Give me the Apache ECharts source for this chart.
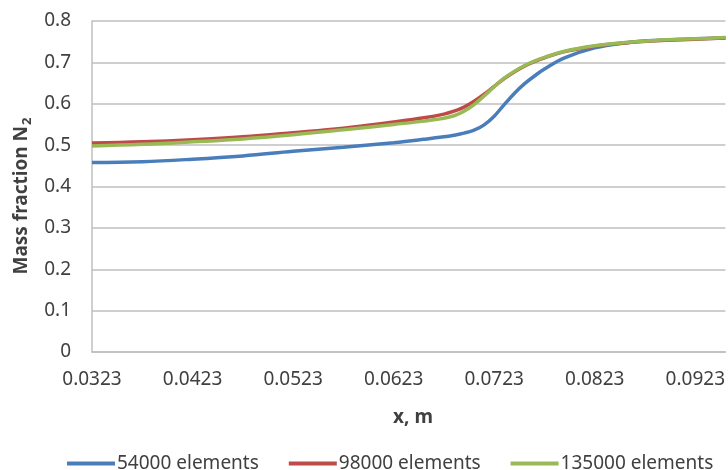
<!DOCTYPE html>
<html>
<head>
<meta charset="utf-8">
<script src="https://cdn.jsdelivr.net/npm/echarts@6/dist/echarts.min.js"></script>
<style>
  html, body { margin: 0; padding: 0; background: #ffffff; }
  #chart { width: 728px; height: 470px; }
</style>
</head>
<body>
<div id="chart"></div>
<script>
// Axial position, m
const xValues = [0.0323, 0.0373, 0.0423, 0.0473, 0.0523, 0.0573, 0.0623, 0.0653, 0.0673, 0.0683,
  0.0693, 0.0703, 0.0713, 0.0723, 0.0733, 0.0743, 0.0753, 0.0763, 0.0773, 0.0793,
  0.0823, 0.0853, 0.0883, 0.0923, 0.0953];

// N2 mass fraction for each mesh
const mesh54000 = [0.458, 0.460, 0.466, 0.474, 0.485, 0.495, 0.506, 0.514, 0.520, 0.524,
  0.529, 0.536, 0.549, 0.570, 0.598, 0.625, 0.648, 0.667, 0.684, 0.711,
  0.735, 0.747, 0.753, 0.757, 0.759];
const mesh98000 = [0.505, 0.508, 0.513, 0.520, 0.530, 0.541, 0.556, 0.566, 0.575, 0.582,
  0.592, 0.606, 0.623, 0.642, 0.661, 0.677, 0.691, 0.702, 0.711, 0.726,
  0.739, 0.747, 0.752, 0.756, 0.759];
const mesh135000 = [0.498, 0.502, 0.508, 0.515, 0.525, 0.537, 0.550, 0.558, 0.565, 0.571,
  0.582, 0.598, 0.619, 0.641, 0.662, 0.678, 0.692, 0.703, 0.712, 0.727,
  0.740, 0.748, 0.753, 0.757, 0.760];

const seriesNames = ['54000 elements', '98000 elements', '135000 elements'];
const xTickLabels = [0.0323, 0.0423, 0.0523, 0.0623, 0.0723, 0.0823, 0.0923];

const colors = ['#4a7ebb', '#be4b48', '#98b954'];
const font = 'Noto Sans, Open Sans, sans-serif';
const textColor = '#404040';
const gridColor = '#bfbfbf';

function pairs(ys) {
  return xValues.map((x, i) => [x, ys[i]]);
}

const chart = echarts.init(document.getElementById('chart'), null, { renderer: 'canvas' });

const lineSeries = seriesNames.map((name, i) => ({
  name,
  type: 'line',
  data: pairs([mesh54000, mesh98000, mesh135000][i]),
  smooth: 0.4,
  showSymbol: false,
  lineStyle: { width: 3.5 }
}));

chart.setOption({
  animation: false,
  color: colors,
  grid: { left: 92, right: 0, top: 21, bottom: 118 },
  xAxis: {
    type: 'value',
    min: 0.0323,
    max: 0.0953,
    axisLine: { show: true, lineStyle: { color: gridColor, width: 1.5 } },
    axisTick: { show: false, customValues: xTickLabels },
    splitLine: { show: false },
    axisLabel: {
      customValues: xTickLabels,
      formatter: v => v.toFixed(4),
      color: textColor,
      fontFamily: font,
      fontSize: 19,
      margin: 18,
      showMinLabel: true,
      showMaxLabel: true
    }
  },
  yAxis: {
    type: 'value',
    min: 0,
    max: 0.8,
    interval: 0.1,
    axisLine: { show: true, lineStyle: { color: gridColor, width: 1.5 } },
    axisTick: { show: false },
    splitLine: { show: true, lineStyle: { color: gridColor, width: 1.5 } },
    axisLabel: {
      formatter: v => (Math.round(v * 10) / 10).toString(),
      color: textColor,
      fontFamily: font,
      fontSize: 19,
      margin: 21
    }
  },
  legend: {
    left: 62,
    top: 449,
    itemGap: 30,
    itemWidth: 48,
    itemHeight: 4,
    icon: 'rect',
    textStyle: { color: textColor, fontFamily: font, fontSize: 19, padding: [0, 0, 0, -3] },
    data: seriesNames
  },
  graphic: [
    {
      type: 'text',
      x: 22,
      y: 196,
      rotation: Math.PI / 2,
      style: {
        text: '{b|Mass fraction N}{s|2}',
        align: 'center',
        verticalAlign: 'middle',
        fill: textColor,
        rich: {
          b: { fontFamily: font, fontSize: 19, fontWeight: 'bold', fill: textColor, lineHeight: 24 },
          s: { fontFamily: font, fontSize: 13, fontWeight: 'bold', fill: textColor, lineHeight: 24, verticalAlign: 'bottom', padding: [8, 0, 0, 1] }
        }
      }
    },
    {
      type: 'text',
      x: 413,
      y: 418,
      style: {
        text: 'x, m',
        align: 'center',
        verticalAlign: 'middle',
        fill: textColor,
        fontFamily: font,
        fontSize: 19,
        fontWeight: 'bold'
      }
    }
  ],
  series: lineSeries
});
</script>
</body>
</html>
